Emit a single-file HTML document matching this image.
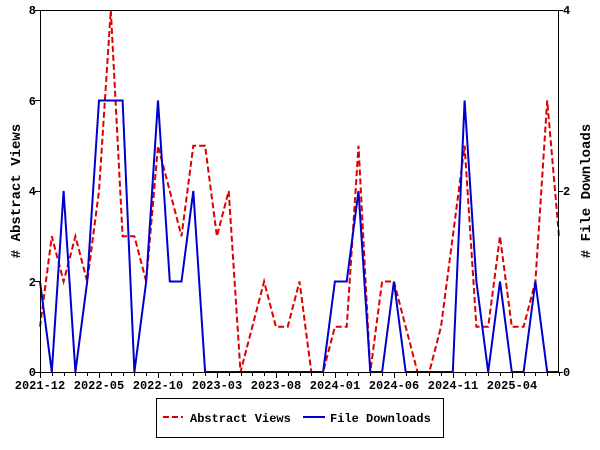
<!DOCTYPE html>
<html><head><meta charset="utf-8"><style>body{margin:0;background:#fff}svg{display:block}text{font-family:"Liberation Mono",monospace;font-weight:bold;fill:#000}</style></head>
<body>
<svg id="s" width="600" height="450" xmlns="http://www.w3.org/2000/svg">
<rect x="0" y="0" width="600" height="450" fill="#fff"/>
<g id="ticks" stroke="#000" stroke-width="1"></g>
<polyline id="v" fill="none" stroke="#dd0000" stroke-width="2" stroke-dasharray="6,3"/>
<polyline id="d" fill="none" stroke="#0000cc" stroke-width="2"/>
<rect x="40.5" y="10.5" width="518" height="362" fill="none" stroke="#000"/>
<g font-size="12" text-anchor="end">
<text x="36" y="376">0</text><text x="36" y="195">4</text><text x="36" y="286">2</text><text x="36" y="105">6</text><text x="36" y="14">8</text>
</g>
<g font-size="12" text-anchor="start">
<text x="563" y="376">0</text><text x="563" y="195">2</text><text x="563" y="14">4</text>
</g>
<g font-size="12" text-anchor="middle">
<text x="40" y="389">2021-12</text><text x="99" y="389">2022-05</text><text x="158" y="389">2022-10</text><text x="217" y="389">2023-03</text><text x="276" y="389">2023-08</text><text x="335" y="389">2024-01</text><text x="394" y="389">2024-06</text><text x="453" y="389">2024-11</text><text x="512" y="389">2025-04</text>
</g>
<text font-size="14" transform="translate(20,191) rotate(-90)" text-anchor="middle"># Abstract Views</text>
<text font-size="14" transform="translate(590,191) rotate(-90)" text-anchor="middle"># File Downloads</text>
<rect x="156.5" y="398.5" width="287" height="39" fill="#fff" stroke="#000"/>
<line x1="163" y1="417" x2="183" y2="417" stroke="#dd0000" stroke-width="2" stroke-dasharray="6,3"/>
<line x1="303" y1="417" x2="325" y2="417" stroke="#0000cc" stroke-width="2"/>
<text x="190" y="422" font-size="12">Abstract Views</text>
<text x="330" y="422" font-size="12">File Downloads</text>
</svg>
<script>
var V=[1,3,2,3,2,4,8,3,3,2,5,4,3,5,5,3,4,0,1,2,1,1,2,0,0,1,1,5,0,2,2,1,0,0,1,3,5,1,1,3,1,1,2,6,3];
var D=[1,0,2,0,1,3,3,3,0,1,3,1,1,2,0,0,0,0,0,0,0,0,0,0,0,1,1,2,0,0,1,0,0,0,0,0,3,1,0,1,0,0,1,0,0];
var st=519/44;
function pts(a,sc){return a.map(function(v,i){return (40+i*st).toFixed(1)+","+(372-v*sc).toFixed(1)}).join(" ")}
document.getElementById("v").setAttribute("points",pts(V,45.25));
document.getElementById("d").setAttribute("points",pts(D,90.5));
var g=document.getElementById("ticks"),h="";
for(var i=0;i<=44;i++){var x=40.5+Math.round(i*st);h+='<line x1="'+x+'" y1="372" x2="'+x+'" y2="'+(i%5==0?378:376)+'"/>';}
[0,2,4,6,8].forEach(function(v){var y=372.5-Math.round(v*45.25);h+='<line x1="35" y1="'+y+'" x2="40" y2="'+y+'"/>';});
[0,2,4].forEach(function(v){var y=372.5-Math.round(v*90.5);h+='<line x1="558" y1="'+y+'" x2="563" y2="'+y+'"/>';});
g.innerHTML=h;
</script>
</body></html>
